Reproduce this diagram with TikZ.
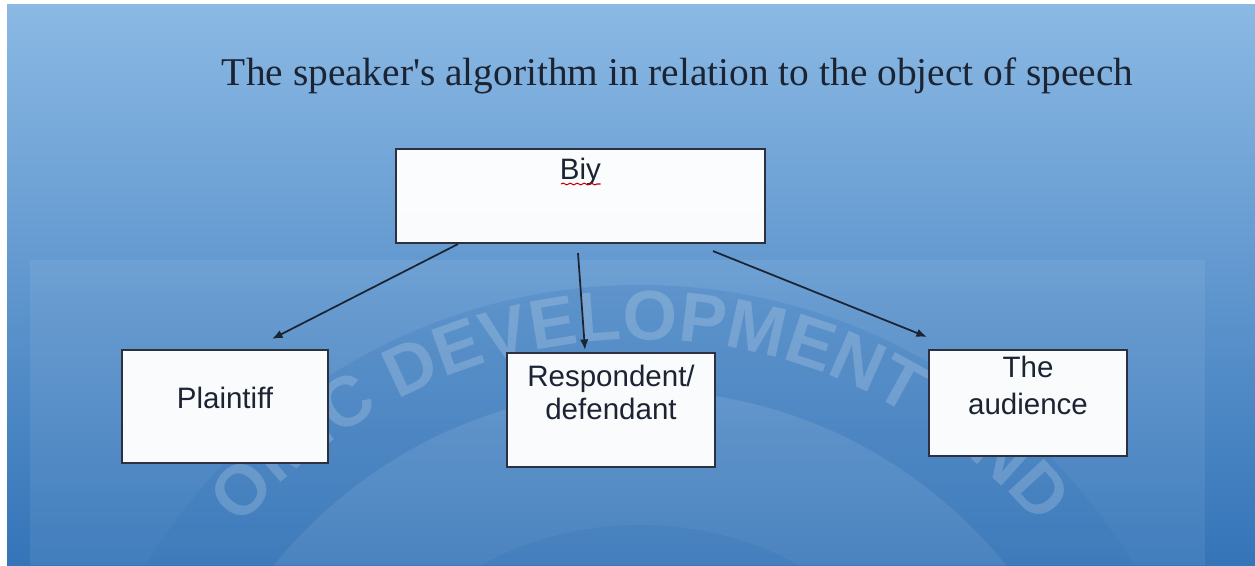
\documentclass[tikz,border=0pt]{standalone}
\usepackage{fontspec}
\setmainfont{Liberation Serif}
\setsansfont{Liberation Sans}
\usepackage{tikz}
\usetikzlibrary{arrows.meta, decorations.text, decorations.pathmorphing}
\definecolor{skytop}{HTML}{8BB9E4}
\definecolor{skymid}{HTML}{5F9DD6}
\definecolor{skybot}{HTML}{3474B8}
\definecolor{ink}{HTML}{1C2433}
\definecolor{edge}{HTML}{2B3140}
\tikzset{
  every picture/.style={font=\sffamily, >=Latex},
  role/.style={draw=edge, line width=0.6pt, fill=white, fill opacity=0.97, text opacity=1, text=ink,
               inner sep=0pt, font=\sffamily\fontsize{8.4}{10}\selectfont},
  heading/.style={font=\rmfamily\fontsize{11.2}{13}\selectfont, text=ink, anchor=base, inner sep=0pt},
  link/.style={-{Latex[length=3pt,width=2.4pt]}, line width=0.5pt, ink},
  squiggle/.style={red!75!black, line width=0.3pt, decorate, decoration={snake, amplitude=0.25pt, segment length=2pt}},
}

\begin{document}
\begin{tikzpicture}
  \useasboundingbox (0,0) rectangle (12.55,5.65);
  \fill[white] (0,0) rectangle (12.55,5.65);
  \shade[top color=skytop, middle color=skymid, bottom color=skybot] (0.07,0) rectangle (12.55,5.61);
  \fill[white, opacity=0.07] (0.30,0) rectangle (12.05,3.05);
  % faint seal behind the chart
  \begin{scope}
    \clip (0.30,0) rectangle (12.05,3.05);
    \fill[skybot, opacity=0.22, even odd rule] (6.40,-2.95) circle (5.75) (6.40,-2.95) circle (4.7);
    \fill[white, opacity=0.05] (6.40,-2.95) circle (4.7);
    \fill[skybot, opacity=0.25] (6.40,-2.95) circle (3.35);
    \begin{scope}[opacity=0.18]
      \path[decorate, decoration={text along path, text align=center, text color=white,
        text={|\sffamily\bfseries\fontsize{20}{20}\selectfont|OMIC DEVELOPMENT AND}}]
        (1.687,-0.752) arc (155:25:5.2);
    \end{scope}
  \end{scope}

  \node[heading] (title) at (6.775,4.80) {The speaker\textquotesingle s algorithm in relation to the object of speech};

  \node[role, minimum width=3.69cm, text height=0.30cm, text depth=0.64cm] (biy) at (5.805,3.69) {Biy};
  \draw[squiggle] ([xshift=-0.195cm,yshift=-0.05cm]biy.base) -- ([xshift=0.2cm,yshift=-0.05cm]biy.base);

  \node[role, minimum width=2.06cm, text height=0.58cm, text depth=0.55cm] (plaintiff) at (2.25,1.585) {Plaintiff};
  \node[role, minimum width=2.08cm, text height=0.33cm, text depth=0.81cm] (respondent) at (6.11,1.55)
    {\begin{tabular}[t]{@{}c@{}}Respondent/\\[-0.6pt]defendant\end{tabular}};
  \node[role, minimum width=1.98cm, text height=0.27cm, text depth=0.79cm] (audience) at (10.28,1.62)
    {\begin{tabular}[t]{@{}c@{}}The\\[0.8pt]audience\end{tabular}};

  \draw[link] ([xshift=-1.225cm]biy.south) -- ([xshift=0.47cm,yshift=0.10cm]plaintiff.north);
  \draw[link] ([xshift=-0.025cm,yshift=-0.09cm]biy.south) -- ([xshift=-0.26cm,yshift=0.02cm]respondent.north);
  \draw[link] ([xshift=1.325cm,yshift=-0.07cm]biy.south) -- ([xshift=-0.01cm,yshift=0.12cm]audience.north west);
\end{tikzpicture}
\end{document}
